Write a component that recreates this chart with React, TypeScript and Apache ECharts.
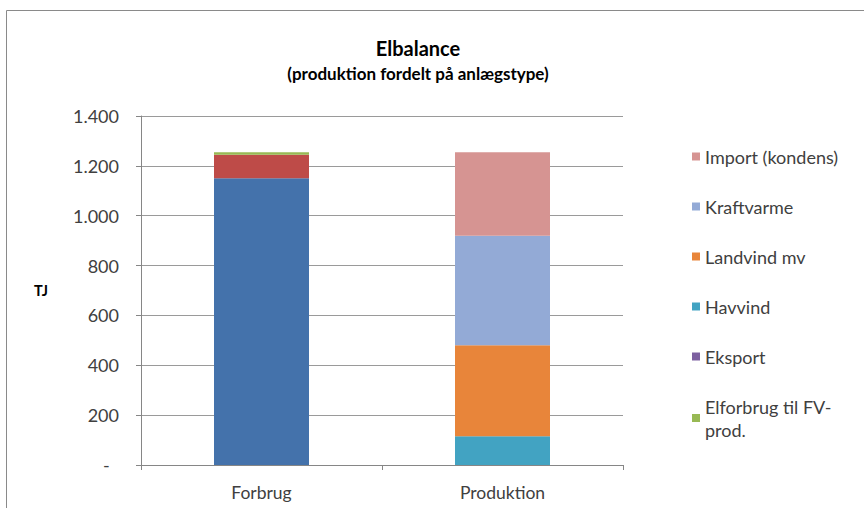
import React, { useEffect, useRef } from "react";
import * as echarts from "echarts";

const categories = ["Forbrug", "Produktion"];
const yTicks = [0, 200, 400, 600, 800, 1000, 1200, 1400];

const elforbrug = [1150, null];
const nettab = [95, null];
const elforbrugFV = [10, null];
const eksport = [0, null];
const havvind = [null, 115];
const landvind = [null, 365];
const kraftvarme = [null, 440];
const importKondens = [null, 335];

const legendNames = [
  "Import (kondens)",
  "Kraftvarme",
  "Landvind mv",
  "Havvind",
  "Eksport",
  "Elforbrug til FV-prod.",
];

const FONT = "Lato, 'Open Sans', sans-serif";

function fmt(v: number): string {
  if (v === 0) return "-  ";
  return String(v).replace(/\B(?=(\d{3})+(?!\d))/g, ".");
}

export default function App() {
  const ref = useRef<HTMLDivElement>(null);
  useEffect(() => {
    if (!ref.current) return;
    const chart = echarts.init(ref.current, undefined, { renderer: "svg" });
    const mk = (name: string, data: (number | null)[], color: string) => ({
      name,
      type: "bar",
      stack: "total",
      data,
      barWidth: 95,
      itemStyle: { color },
      emphasis: { disabled: true },
    });
    chart.setOption({
      animation: false,
      backgroundColor: "#ffffff",
      textStyle: { fontFamily: FONT },
      title: {
        text: "Elbalance",
        subtext: "(produktion fordelt på anlægstype)",
        left: 413,
        textAlign: "center",
        top: 33,
        itemGap: 7,
        textStyle: { fontFamily: FONT, fontSize: 20, fontWeight: "bold", color: "#000000" },
        subtextStyle: { fontFamily: FONT, fontSize: 17, fontWeight: "bold", color: "#000000" },
      },
      graphic: [
        {
          type: "rect",
          shape: { x: 6.5, y: 10.5, width: 1000, height: 1000 },
          style: { fill: "none", stroke: "#8a8a8a", lineWidth: 1 },
          silent: true,
        },
      ],
      legend: {
        data: legendNames,
        orient: "vertical",
        left: 687,
        top: 140,
        itemWidth: 8,
        itemHeight: 8,
        itemGap: 27,
        icon: "rect",
        formatter: (n: string) => (n === "Elforbrug til FV-prod." ? "Elforbrug til FV-\nprod." : n),
        textStyle: { fontFamily: FONT, fontSize: 18, color: "#404040", lineHeight: 23 },
        selectedMode: false,
      },
      grid: { left: 141, right: 241, top: 116, bottom: 43 },
      xAxis: {
        type: "category",
        data: categories,
        axisLine: { lineStyle: { color: "#868686" } },
        axisTick: { show: true, length: 5, lineStyle: { color: "#868686" } },
        axisLabel: { margin: 18, fontFamily: FONT, fontSize: 17.5, color: "#404040" },
      },
      yAxis: {
        type: "value",
        min: 0,
        max: 1400,
        interval: 200,
        name: "TJ",
        nameLocation: "middle",
        nameRotate: 0,
        nameGap: 93,
        nameTextStyle: { fontFamily: FONT, fontSize: 14.5, fontWeight: "bold", color: "#000000" },
        axisLine: { show: true, lineStyle: { color: "#868686" } },
        axisTick: { show: true, length: 5, lineStyle: { color: "#868686" } },
        splitLine: { lineStyle: { color: "#9a9a9a" } },
        axisLabel: {
          margin: 22,
          fontFamily: FONT,
          fontSize: 18,
          color: "#404040",
          formatter: (v: number) => (yTicks.includes(v) ? fmt(v) : ""),
        },
      },
      series: [
        mk("Elforbrug", elforbrug, "#4472ab"),
        mk("Nettab", nettab, "#be4b48"),
        mk("Elforbrug til FV-prod.", elforbrugFV, "#98b954"),
        mk("Eksport", eksport, "#7d60a0"),
        mk("Havvind", havvind, "#42a3c2"),
        mk("Landvind mv", landvind, "#e8853a"),
        mk("Kraftvarme", kraftvarme, "#93aad6"),
        mk("Import (kondens)", importKondens, "#d69492"),
      ],
    });
    return () => chart.dispose();
  }, []);
  return (
    <div
      ref={ref}
      style={{ position: "fixed", left: 0, top: 0, width: 864, height: 508, background: "#fff" }}
    />
  );
}
